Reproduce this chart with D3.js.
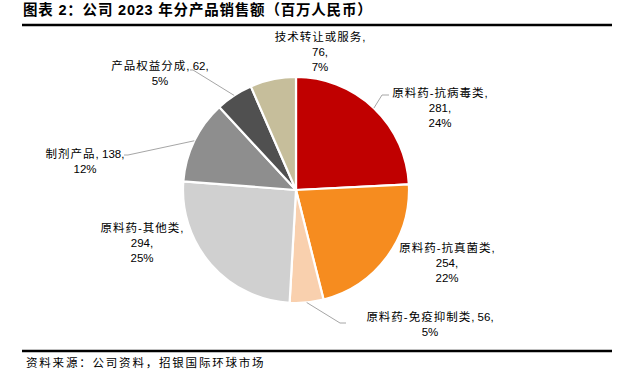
<!DOCTYPE html>
<html>
<head>
<meta charset="utf-8">
<script src="https://cdn.jsdelivr.net/npm/d3@7"></script>
<style>
  body { margin: 0; background: #fff; }
  svg { display: block; }
</style>
</head>
<body>
<div id="chart"></div>
<script>
// data
const categories = ["原料药-抗病毒类", "原料药-抗真菌类", "原料药-免疫抑制类", "原料药-其他类", "制剂产品", "产品权益分成", "技术转让或服务"]
const values = [281, 254, 56, 294, 138, 62, 76]
const percents = ["24%", "22%", "5%", "25%", "12%", "5%", "7%"]

const colors = ["#C00000", "#F68C1F", "#F9D0AE", "#D0D0D0", "#8E8E8E", "#505050", "#C6BE9B"]

// label layout: text block centre relative to pie centre, how lines are broken, and leader elbow
const labelLayout = [
    {x: 144, y: -82, lines: 3, elbow: [86, -95], end: [93, -95]},
    {x: 151, y: 73, lines: 3},
    {x: 134, y: 134, lines: 2, elbow: [44, 133], end: [50, 133]},
    {x: -154, y: 53, lines: 3},
    {x: -211, y: -29, lines: 2, elbow: [-168, -35], end: [-172, -35]},
    {x: -136, y: -117, lines: 2, elbow: [-103, -120], end: [-106, -120]},
    {x: 24, y: -138, lines: 3}
]

const width = 636, height = 392
const cx = 296, cy = 190, radius = 113
const font = "'Liberation Sans', 'Noto Sans CJK SC', sans-serif"

const svg = d3.select("#chart").append("svg")
    .attr("width", width)
    .attr("height", height)

// title
svg.append("text")
    .attr("x", 23)
    .attr("y", 15)
    .attr("font-family", font)
    .attr("font-weight", "bold")
    .attr("font-size", 14.5)
    .attr("letter-spacing", 0.8)
    .attr("fill", "#000")
    .text("图表 2：公司 2023 年分产品销售额（百万人民币）")

svg.append("line")
    .attr("x1", 22).attr("x2", 612)
    .attr("y1", 25).attr("y2", 25)
    .attr("stroke", "#000").attr("stroke-width", 2.5)

svg.append("line")
    .attr("x1", 22).attr("x2", 612)
    .attr("y1", 351).attr("y2", 351)
    .attr("stroke", "#000").attr("stroke-width", 2.5)

svg.append("text")
    .attr("x", 26)
    .attr("y", 367)
    .attr("font-family", font)
    .attr("font-size", 11.5)
    .attr("letter-spacing", 1.8)
    .attr("fill", "#000")
    .text("资料来源：公司资料，招银国际环球市场")

const pie = d3.pie().sort(null).value(d => d)
const arcs = pie(values)
const arc = d3.arc().innerRadius(0).outerRadius(radius)

const g = svg.append("g").attr("transform", `translate(${cx}, ${cy})`)

g.selectAll("path.slice")
    .data(arcs)
    .enter()
    .append("path")
    .attr("class", "slice")
    .attr("d", arc)
    .attr("fill", (d, i) => colors[i])
    .attr("stroke", "#fff")
    .attr("stroke-width", 2.2)
    .attr("stroke-linejoin", "round")

// leader lines from slice edge (mid angle) to elbow
g.selectAll("polyline")
    .data(arcs.filter((d, i) => labelLayout[i].elbow))
    .enter()
    .append("polyline")
    .attr("points", d => {
        const L = labelLayout[d.index]
        const a = (d.startAngle + d.endAngle) / 2
        const p = [Math.sin(a) * radius, -Math.cos(a) * radius]
        return [p, L.elbow, L.end].map(q => q.join(",")).join(" ")
    })
    .attr("fill", "none")
    .attr("stroke", "#A6A6A6")
    .attr("stroke-width", 1)

// labels
const lineH = 15
arcs.forEach((d, i) => {
    const L = labelLayout[i]
    let rows
    if (L.lines === 3) rows = [[categories[i], ","], [values[i] + ","], [percents[i]]]
    else rows = [[categories[i], ", " + values[i] + ","], [percents[i]]]
    const top = L.y - (rows.length - 1) * lineH / 2
    const t = g.append("text")
        .attr("font-family", font)
        .attr("font-size", 11.5)
        .attr("fill", "#000")
        .attr("text-anchor", "middle")
    rows.forEach((r, k) => {
        const row = t.append("tspan")
            .attr("x", L.x)
            .attr("y", top + k * lineH)
            .attr("dy", "0.35em")
        if (k === 0) {
            row.append("tspan").attr("letter-spacing", 1).text(r[0])
            row.append("tspan").text(r[1])
        } else {
            row.text(r[0])
        }
    })
})
</script>
</body>
</html>
